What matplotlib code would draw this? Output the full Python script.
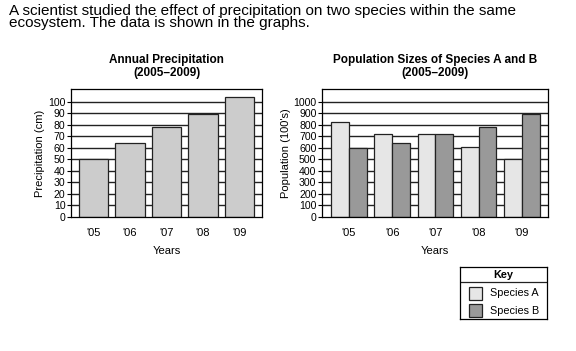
import matplotlib
matplotlib.use('Agg')
import matplotlib.pyplot as plt
import numpy as np
from matplotlib.patches import Rectangle

plt.rcParams['font.family'] = ['Liberation Sans', 'DejaVu Sans']

years = ["'05", "'06", "'07", "'08", "'09"]
precip = [50, 64, 78, 89, 104]
species_a = [820, 720, 720, 610, 500]
species_b = [600, 640, 720, 780, 890]

W, H = 576, 351
fig = plt.figure(figsize=(W / 100, H / 100), dpi=100)

def px_axes(x0, y0, x1, y1):
    # pixel box (top-left origin) -> figure axes
    return fig.add_axes([x0 / W, 1 - y1 / H, (x1 - x0) / W, (y1 - y0) / H])

intro = ["A scientist studied the effect of precipitation on two species within the same",
         "ecosystem. The data is shown in the graphs."]
for i, line in enumerate(intro):
    fig.text(9 / W, 1 - (15 + 12.5 * i) / H, line, ha='left', va='baseline', fontsize=11.0)

def style(ax, ymax, top, step, label):
    ax.set_ylim(0, ymax)
    ax.set_yticks(np.arange(0, top + 1, step))
    for v in np.arange(step, top + 1, step):
        ax.axhline(v, color='#222222', lw=1.0, zorder=0)
    ax.tick_params(axis='y', length=3, width=0.8, labelsize=7.6, pad=1)
    ax.tick_params(axis='x', length=0, labelsize=8, pad=8)
    for s in ax.spines.values():
        s.set_linewidth(0.9)
    ax.set_ylabel(label, fontsize=8, labelpad=2)
    ax.set_xlabel('Years', fontsize=8, labelpad=6)

x = np.arange(len(years))

ax1 = px_axes(71, 89, 262, 217)
ax1.bar(x, precip, width=0.8, color='#cccccc', edgecolor='#222222', lw=0.9, zorder=2)
ax1.set_xlim(-0.62, 4.62)
ax1.set_xticks(x, years)
style(ax1, 111, 100, 10, 'Precipitation (cm)')
ax1.set_title('Annual Precipitation\n(2005\u20132009)', fontsize=8.5, fontweight='bold', pad=9.5,
              linespacing=1.05)

ax2 = px_axes(322, 89, 548, 217)
bw = 0.41
ax2.bar(x - bw / 2, species_a, width=bw, color='#e6e6e6', edgecolor='#222222', lw=0.9, zorder=2)
ax2.bar(x + bw / 2, species_b, width=bw, color='#999999', edgecolor='#222222', lw=0.9, zorder=2)
ax2.set_xlim(-0.62, 4.6)
ax2.set_xticks(x, years)
style(ax2, 1110, 1000, 100, "Population (100's)")
ax2.set_title('Population Sizes of Species A and B\n(2005\u20132009)', fontsize=8.5, fontweight='bold',
              pad=9.5, linespacing=1.05)

# key box
kx = px_axes(460, 267, 547, 319)
kx.set_xlim(0, 87)
kx.set_ylim(52, 0)
kx.set_xticks([])
kx.set_yticks([])
for s in kx.spines.values():
    s.set_linewidth(0.9)
kx.axhline(15, color='#222222', lw=0.9)
kx.text(43.5, 7.5, 'Key', ha='center', va='center', fontsize=7.8, fontweight='bold')
for i, (lab, col) in enumerate([('Species A', '#e6e6e6'), ('Species B', '#999999')]):
    yc = 26.5 + i * 17
    kx.add_patch(Rectangle((9, yc - 6.5), 13, 13, facecolor=col, edgecolor='#222222', lw=0.9))
    kx.text(30, yc, lab, ha='left', va='center', fontsize=7.8)

fig.savefig('out.png', dpi=100)
